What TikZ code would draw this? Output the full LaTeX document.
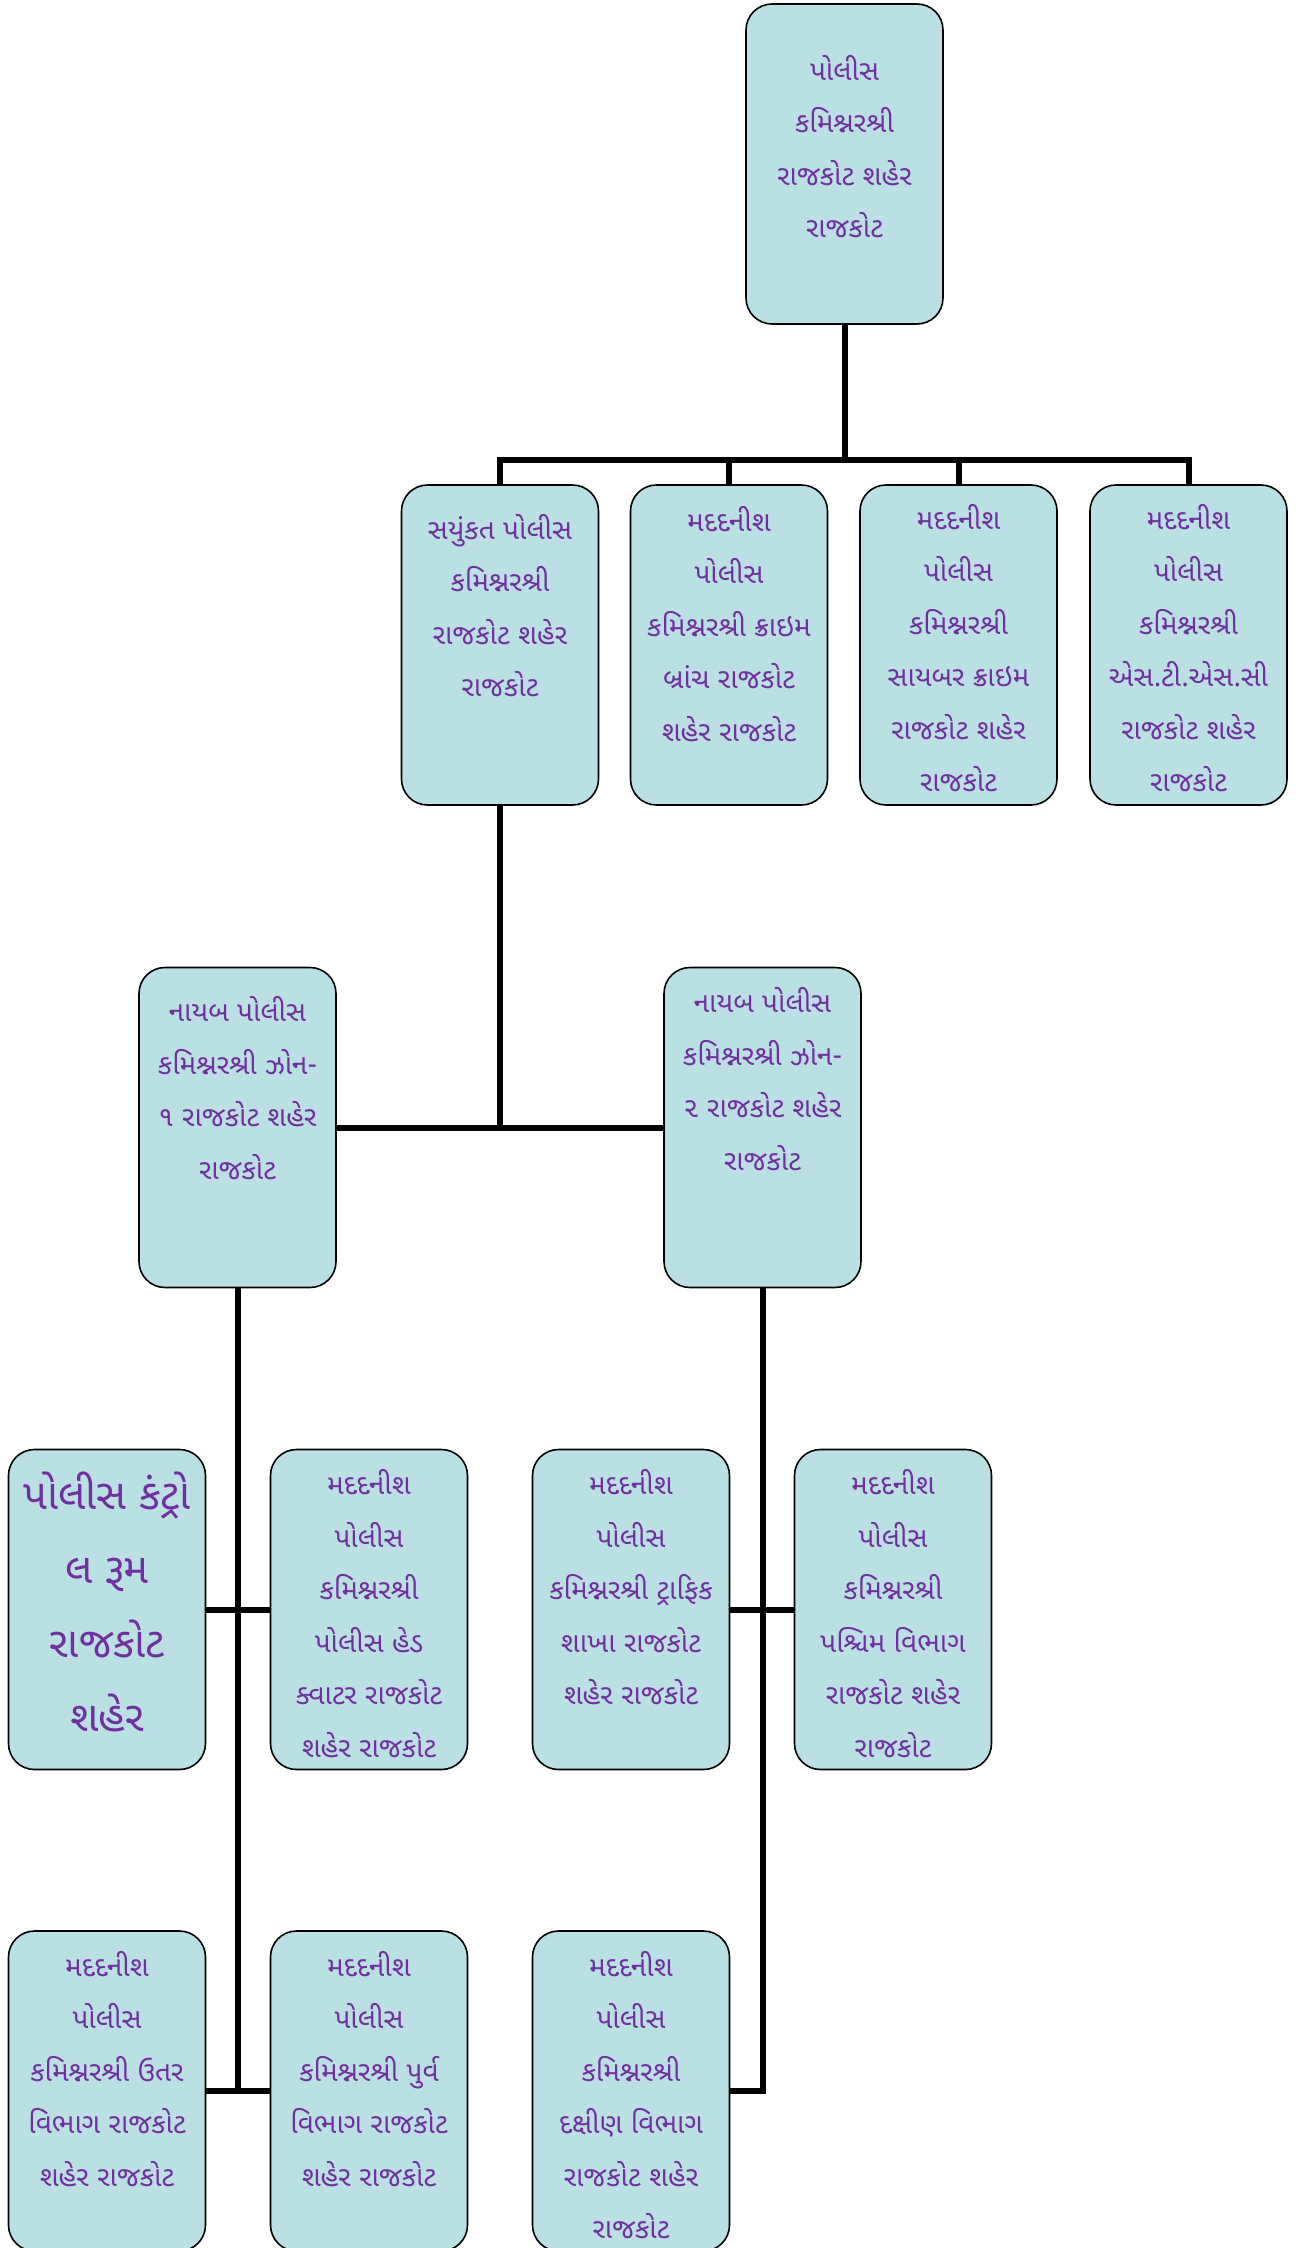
\documentclass[tikz,border=0pt]{standalone}
\usepackage{fontspec}
\usepackage{xcolor}
\usepackage{tikz}
\newfontfamily\gujfont[Script=Gujarati]{Noto Sans Gujarati UI}
\definecolor{boxfill}{RGB}{187,224,227}
\definecolor{txtpurple}{RGB}{112,48,160}
\newcommand{\postxt}[2]{\parbox[c][300pt][t]{197pt}{\centering\vspace*{#1pt}\rule{0pt}{34pt}#2\par}}
\tikzset{
  pbox/.style = {rectangle, rounded corners=26pt, draw=black, line width=1.6pt,
    fill=boxfill, text=txtpurple, inner sep=0pt, minimum width=197pt,
    minimum height=320pt, font=\gujfont\fontsize{28}{52.5}\selectfont},% post box
  pbox_l/.style = {pbox, font=\gujfont\fontsize{42}{74}\selectfont},% big text
  bus/.style = {draw=black, line width=6pt}% connector
}
\begin{document}
\begin{tikzpicture}[x=1pt,y=-1pt]
\useasboundingbox (0,0) rectangle (1302,2248);
% level 1 and 2
\node [pbox] (cp) at (844.5,164) {\postxt{32}{પોલીસ\\કમિશ્નરશ્રી\\રાજકોટ શહેર\\રાજકોટ}};
\node [pbox] (jc) at (500,645) {\postxt{10}{સયુંકત પોલીસ\\કમિશ્નરશ્રી\\રાજકોટ શહેર\\રાજકોટ}};
\node [pbox] (cb) at (729,645) {\postxt{2}{મદદનીશ\\પોલીસ\\કમિશ્નરશ્રી ક્રાઇમ\\બ્રાંચ રાજકોટ\\શહેર રાજકોટ}};
\node [pbox] (cy) at (958.5,645) {\postxt{0}{મદદનીશ\\પોલીસ\\કમિશ્નરશ્રી\\સાયબર ક્રાઇમ\\રાજકોટ શહેર\\રાજકોટ}};
\node [pbox] (st) at (1188.5,645) {\postxt{0}{મદદનીશ\\પોલીસ\\કમિશ્નરશ્રી\\એસ.ટી.એસ.સી\\રાજકોટ શહેર\\રાજકોટ}};
% zones
\node [pbox] (dz1) at (237.5,1127.5) {\postxt{10}{નાયબ પોલીસ\\કમિશ્નરશ્રી ઝોન-\\૧ રાજકોટ શહેર\\રાજકોટ}};
\node [pbox] (dz2) at (762.5,1127.5) {\postxt{1}{નાયબ પોલીસ\\કમિશ્નરશ્રી ઝોન-\\૨ રાજકોટ શહેર\\રાજકોટ}};
% level 4
\node [pbox_l] (cr) at (107,1609.5) {\postxt{12}{પોલીસ કંટ્રો\\લ રૂમ\\રાજકોટ\\શહેર}};
\node [pbox] (hq) at (369,1609.5) {\postxt{1}{મદદનીશ\\પોલીસ\\કમિશ્નરશ્રી\\પોલીસ હેડ\\ક્વાટર રાજકોટ\\શહેર રાજકોટ}};
\node [pbox] (tr) at (631,1609.5) {\postxt{1}{મદદનીશ\\પોલીસ\\કમિશ્નરશ્રી ટ્રાફિક\\શાખા રાજકોટ\\શહેર રાજકોટ}};
\node [pbox] (pw) at (893,1609.5) {\postxt{1}{મદદનીશ\\પોલીસ\\કમિશ્નરશ્રી\\પશ્ચિમ વિભાગ\\રાજકોટ શહેર\\રાજકોટ}};
% level 5
\node [pbox] (ut) at (107,2091) {\postxt{1}{મદદનીશ\\પોલીસ\\કમિશ્નરશ્રી ઉતર\\વિભાગ રાજકોટ\\શહેર રાજકોટ}};
\node [pbox] (pv) at (369,2091) {\postxt{1}{મદદનીશ\\પોલીસ\\કમિશ્નરશ્રી પુર્વ\\વિભાગ રાજકોટ\\શહેર રાજકોટ}};
\node [pbox] (dk) at (631,2091) {\postxt{1}{મદદનીશ\\પોલીસ\\કમિશ્નરશ્રી\\દક્ષીણ વિભાગ\\રાજકોટ શહેર\\રાજકોટ}};
% connectors
\coordinate (top_bus) at (844.5,460);
\draw [bus] (cp.south) -- (top_bus);
\draw [bus] (jc.north) -- (jc.north |- top_bus) -- (st.north |- top_bus) -- (st.north);
\draw [bus] (cb.north) -- (cb.north |- top_bus);
\draw [bus] (cy.north) -- (cy.north |- top_bus);
\draw [bus] (jc.south) -- (jc.south |- dz1.east);
\draw [bus] (dz1.east) -- (dz2.west);
\draw [bus] (dz1.south) -- (dz1.south |- ut.east);
\draw [bus] (cr.east) -- (hq.west);
\draw [bus] (ut.east) -- (pv.west);
\draw [bus] (dz2.south) |- (dk.east);
\draw [bus] (tr.east) -- (pw.west);
\end{tikzpicture}
\end{document}
